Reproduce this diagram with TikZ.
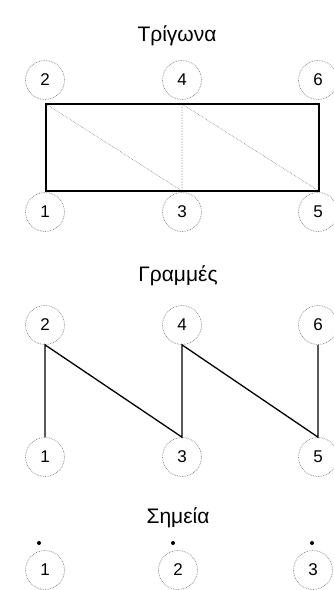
\documentclass[tikz,border=0pt]{standalone}
\usepackage{fontspec}
\setmainfont{Liberation Sans}
\definecolor{ringgray}{RGB}{125,125,125}
\definecolor{diaggray}{RGB}{130,130,130}

\begin{document}
\begin{tikzpicture}[x=1pt,y=-1pt,
    vertex/.style={circle,draw=ringgray,densely dotted,line width=0.7pt,minimum size=39pt,inner sep=0pt,font=\fontsize{17}{17}\selectfont},
    title/.style={anchor=base,font=\fontsize{21}{21}\selectfont},
    edge/.style={draw=black,line width=1.3pt},
    diag/.style={draw=diaggray,densely dotted,line width=0.6pt}]
  \useasboundingbox (0,0) rectangle (334,590);
  % triangles
  \node[title] (ttri) at (177,41) {Τρίγωνα};
  \node[vertex] (t2) at (45,80) {2};
  \node[vertex] (t4) at (182,80) {4};
  \node[vertex] (t6) at (318,80) {6};
  \node[vertex] (t1) at (45,212) {1};
  \node[vertex] (t3) at (182,212) {3};
  \node[vertex] (t5) at (318,212) {5};
  \coordinate (c2) at (46,104);
  \coordinate (c4) at (182,104);
  \coordinate (c6) at (319,104);
  \coordinate (c1) at (46,191);
  \coordinate (c3) at (182,191);
  \coordinate (c5) at (319,191);
  \draw[diag] (c2) -- (c3) (c4) -- (c3) (c4) -- (c5);
  \draw[edge] (c1) -- (c2) -- (c6) -- (c5) -- cycle;
  % lines
  \node[title] (tlin) at (178,281) {Γραμμές};
  \node[vertex] (l2) at (45,325) {2};
  \node[vertex] (l4) at (182,325) {4};
  \node[vertex] (l6) at (318,325) {6};
  \node[vertex] (l1) at (45,457) {1};
  \node[vertex] (l3) at (182,457) {3};
  \node[vertex] (l5) at (318,457) {5};
  \draw[edge] (l1.north) -- (l2.south) -- (l3.north) -- (l4.south) -- (l5.north) -- (l6.south);
  % points
  \node[title] (tpts) at (178,523) {Σημεία};
  \node[vertex] (p1) at (45,570) {1};
  \node[vertex] (p2) at (178,570) {2};
  \node[vertex] (p3) at (313,570) {3};
  \foreach \x/\n in {39/1,173/2,312/3}
    \fill (\x,543) circle (2pt);
\end{tikzpicture}
\end{document}
